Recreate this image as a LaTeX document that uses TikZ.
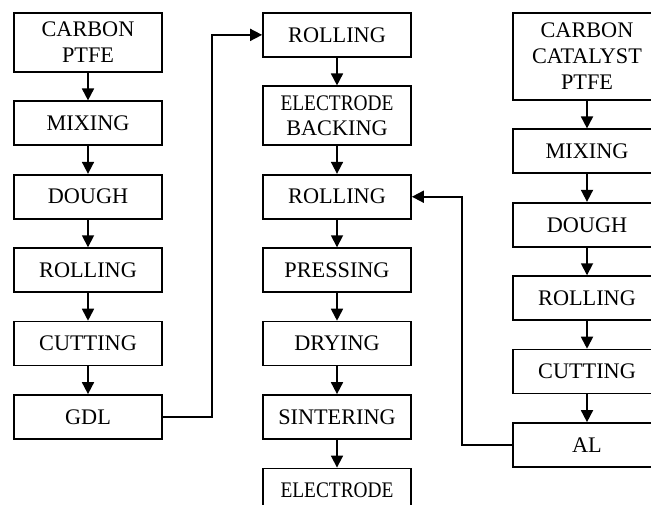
\documentclass[tikz,border=0pt]{standalone}
\usepackage{fontspec}
\setmainfont{Liberation Serif}
\usetikzlibrary{positioning,arrows.meta}

\tikzset{
  stage/.style={draw, line width=1.5pt, minimum width=4.44cm, minimum height=1.32cm,
    align=center, inner sep=2pt, font=\fontsize{19}{22}\selectfont},
  flow/.style={line width=1.5pt, -{Triangle[length=0.36cm,width=0.36cm]}}
}

\begin{document}
\begin{tikzpicture}[x=0.03cm, y=-0.03cm, node distance=0.83cm]
    \useasboundingbox (0,0) rectangle (651,504);
    % gas diffusion layer
    \node[stage, anchor=north, minimum height=1.77cm] (carbonL) at (88,12) {CARBON\\PTFE};
    \node[stage, below=of carbonL] (mixL) {MIXING};
    \node[stage, below=of mixL] (doughL) {DOUGH};
    \node[stage, below=of doughL] (rollL) {ROLLING};
    \node[stage, below=of rollL] (cutL) {CUTTING};
    \node[stage, below=of cutL] (gdl) {GDL};
    % electrode
    \node[stage, anchor=north] (rollA) at (337,12) {ROLLING};
    \node[stage, below=of rollA, minimum height=1.77cm] (backing) {\scalebox{0.87}[1]{ELECTRODE}\\BACKING};
    \node[stage, below=of backing] (rollB) {ROLLING};
    \node[stage, below=of rollB] (press) {PRESSING};
    \node[stage, below=of press] (dry) {DRYING};
    \node[stage, below=of dry] (sinter) {SINTERING};
    \node[stage, below=of sinter] (electrode) {\scalebox{0.87}[1]{ELECTRODE}};
    % active layer
    \node[stage, anchor=north, minimum height=2.61cm] (carbonR) at (587,12) {CARBON\\CATALYST\\PTFE};
    \node[stage, below=of carbonR] (mixR) {MIXING};
    \node[stage, below=of mixR] (doughR) {DOUGH};
    \node[stage, below=of doughR] (rollR) {ROLLING};
    \node[stage, below=of rollR] (cutR) {CUTTING};
    \node[stage, below=of cutR] (al) {AL};

    \foreach \a/\b in {carbonL/mixL, mixL/doughL, doughL/rollL, rollL/cutL, cutL/gdl,
                       rollA/backing, backing/rollB, rollB/press, press/dry, dry/sinter, sinter/electrode,
                       carbonR/mixR, mixR/doughR, doughR/rollR, rollR/cutR, cutR/al}
        \draw[flow] (\a) -- (\b);

    \coordinate (bendL) at (212,0);
    \coordinate (bendR) at (462,0);
    \draw[flow] (gdl.east) -- (gdl.east -| bendL) |- (rollA.west);
    \draw[flow] (al.west) -- (al.west -| bendR) |- (rollB.east);
\end{tikzpicture}
\end{document}
